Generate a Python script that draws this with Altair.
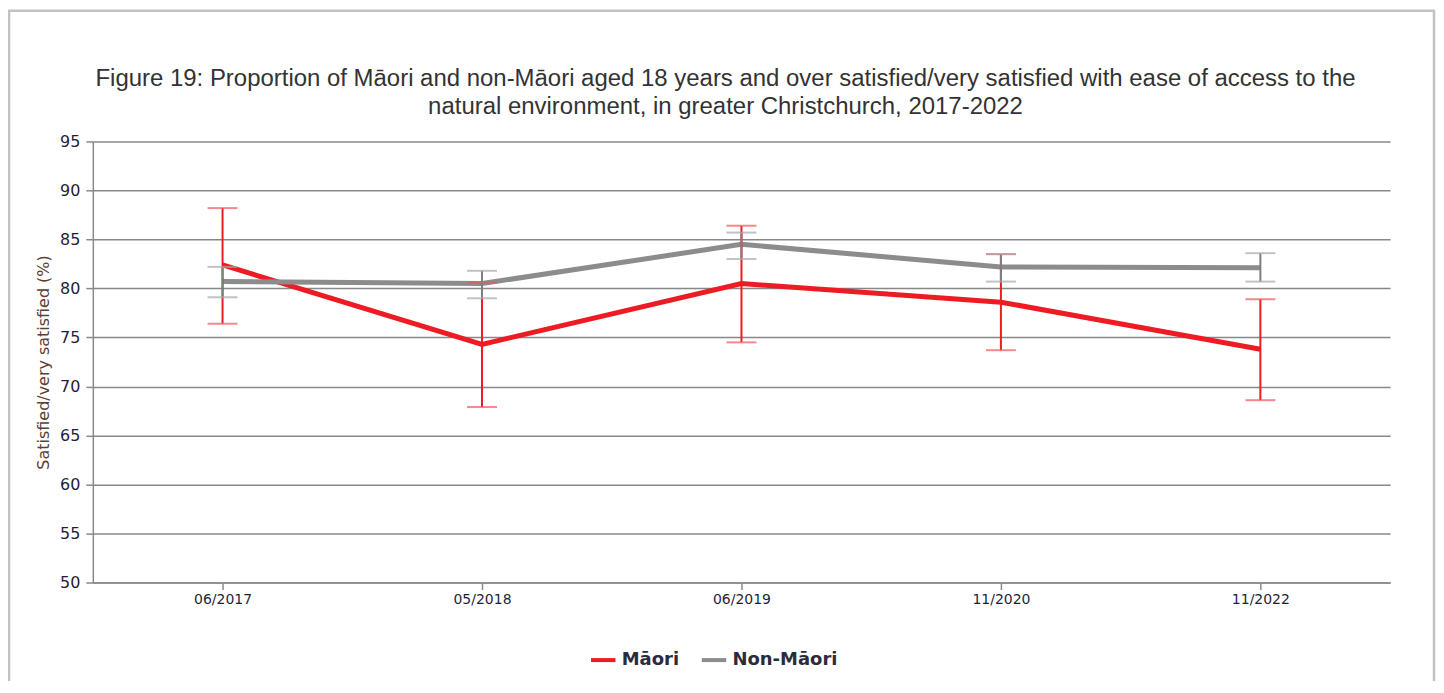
import altair as alt
import pandas as pd

periods = ["06/2017", "05/2018", "06/2019", "11/2020", "11/2022"]
groups = ["Māori", "Non-Māori"]
maori = [82.4, 74.3, 80.5, 78.6, 73.8]
maori_lo = [76.4, 67.9, 74.5, 73.7, 68.6]
maori_hi = [88.2, 80.6, 86.4, 83.5, 78.9]
non_maori = [80.7, 80.5, 84.5, 82.2, 82.1]
non_maori_lo = [79.1, 79.0, 83.0, 80.7, 80.7]
non_maori_hi = [82.2, 81.8, 85.7, 83.5, 83.6]
title_lines = [
    "Figure 19: Proportion of Māori and non-Māori aged 18 years and over satisfied/very satisfied with ease of access to the",
    "natural environment, in greater Christchurch, 2017-2022",
]

RED = "#ED1C24"
GREY = "#8C8C8C"

rows = []
for g, v, lo, hi in [(groups[0], maori, maori_lo, maori_hi),
                     (groups[1], non_maori, non_maori_lo, non_maori_hi)]:
    for i, p in enumerate(periods):
        rows.append({"period": p, "group": g, "value": v[i], "lo": lo[i], "hi": hi[i], "ord": i})
df = pd.DataFrame(rows)

xs = alt.Scale(type="point", padding=0.5, domain=periods)
ys = alt.Scale(domain=[50, 95], nice=False, zero=False)

x_enc = alt.X("period:N", scale=xs, title=None,
              axis=alt.Axis(labelAngle=0, tickSize=7, domainColor="#8a8a8a", tickColor="#8a8a8a",
                            domainWidth=1.5, tickWidth=1.5, labelFont="DejaVu Sans", labelFontSize=14,
                            labelColor="#1f1f3a", labelPadding=3, grid=False))
y_enc = alt.Y("value:Q", scale=ys,
              title="Satisfied/very satisfied (%)",
              axis=alt.Axis(values=list(range(50, 96, 5)), grid=True, gridColor="#888888",
                            gridWidth=1.5, domainColor="#8a8a8a", domainWidth=1.5,
                            tickColor="#8a8a8a", tickWidth=1.5, tickSize=7,
                            labelFont="DejaVu Sans", labelFontSize=16, labelColor="#1f1f3a", labelPadding=6,
                            titleFont="DejaVu Sans", titleFontSize=16, titleFontWeight="normal",
                            titleColor="#5e3f33", titlePadding=8))

base = alt.Chart(df)

def errbars(gname, color, capcolor):
    sub = base.transform_filter(alt.datum.group == gname)
    rule = sub.mark_rule(strokeWidth=2, color=color).encode(
        x=alt.X("period:N", scale=xs), y=alt.Y("lo:Q", scale=ys), y2="hi:Q")
    cap_lo = sub.mark_tick(size=30, thickness=2, color=capcolor).encode(
        x=alt.X("period:N", scale=xs), y=alt.Y("lo:Q", scale=ys))
    cap_hi = sub.mark_tick(size=30, thickness=2, color=capcolor).encode(
        x=alt.X("period:N", scale=xs), y=alt.Y("hi:Q", scale=ys))
    return rule + cap_lo + cap_hi

lines = base.mark_line(strokeWidth=5).encode(
    x=x_enc, y=y_enc,
    order="ord:Q",
    color=alt.Color("group:N", scale=alt.Scale(domain=groups, range=[RED, GREY]),
                    legend=alt.Legend(title=None, orient="none", direction="horizontal",
                                      legendX=497, legendY=505, symbolType="stroke",
                                      symbolSize=600, symbolStrokeWidth=4,
                                      labelFont="DejaVu Sans", labelFontSize=18, labelFontWeight="bold",
                                      labelColor="#2b2b3b", columnPadding=14, symbolOffset=0)))

bdf = pd.DataFrame({"k": [0]})
bc = "#c3c3c3"
border = (
    alt.Chart(bdf).mark_rule(color=bc, strokeWidth=2.5).encode(
        x=alt.value(-84), y=alt.value(-131), y2=alt.value(560))
    + alt.Chart(bdf).mark_rule(color=bc, strokeWidth=2.5).encode(
        x=alt.value(1344), y=alt.value(-131), y2=alt.value(560))
    + alt.Chart(bdf).mark_rule(color=bc, strokeWidth=2.5).encode(
        x=alt.value(-85), x2=alt.value(1345), y=alt.value(-131))
)

tdf = pd.DataFrame({"line": title_lines, "i": [0, 1]})
title = (
    alt.Chart(tdf).transform_filter(alt.datum.i == 0)
    .mark_text(font="Liberation Sans", fontSize=24, color="#333333", align="center", baseline="middle")
    .encode(text="line:N", x=alt.value(634), y=alt.value(-63))
    + alt.Chart(tdf).transform_filter(alt.datum.i == 1)
    .mark_text(font="Liberation Sans", fontSize=24, color="#333333", align="center", baseline="middle")
    .encode(text="line:N", x=alt.value(634), y=alt.value(-34))
)

chart = alt.layer(
    lines,
    errbars("Māori", RED, "#F0555B"),
    errbars("Non-Māori", "#7f7f7f", "#a8a8a8"),
    border,
    title,
).properties(
    width=1300, height=442,
    autosize=alt.AutoSizeParams(type="none"),
    padding={"left": 85, "top": 133, "right": 46, "bottom": 98},
    background="white",
).configure_view(stroke=None)

chart.save("out.html", embed_options={"renderer": "svg", "actions": False})
